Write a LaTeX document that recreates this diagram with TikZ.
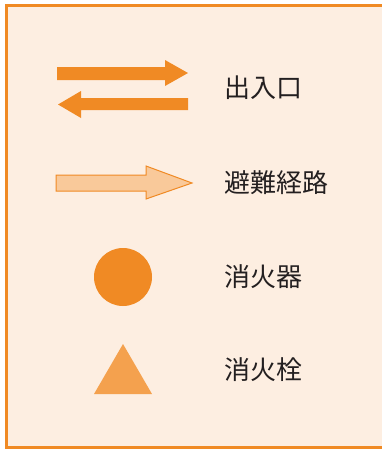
\documentclass[tikz,border=0pt]{standalone}
\usepackage{fontspec}
\newfontfamily\cjk{Noto Sans CJK JP}
\definecolor{bgc}{HTML}{FDEEE1}
\definecolor{orng}{HTML}{F08A24}
\definecolor{lorng}{HTML}{F4A14E}
\definecolor{pale}{HTML}{F9C99A}
\definecolor{txt}{HTML}{231F20}
\begin{document}
\begin{tikzpicture}[x=1pt,y=-1pt,
  label/.style={anchor=west,inner sep=0pt,font=\cjk\fontsize{26}{28}\selectfont,text=txt}]
\useasboundingbox (0,0) rectangle (381,450);
\fill[white] (0,0) rectangle (381,450);
\draw[orng,line width=3,fill=bgc] (6.5,5) rectangle (400,447.5);
% entrance arrows
\fill[orng] (57,67) -- (165,67) -- (165,60) -- (188,73) -- (165,86) -- (165,80) -- (57,80) -- cycle;
\fill[orng] (188,98) -- (81,98) -- (81,91) -- (58,104.5) -- (81,118) -- (81,110) -- (188,110) -- cycle;
\node[label] (t1) at (224,88) {出入口};
% evacuation route
\draw[orng,line width=1,fill=pale] (56,175) -- (146,175) -- (146,166) -- (192,183) -- (146,199) -- (146,191) -- (56,191) -- cycle;
\node[label] (t2) at (224,183) {避難経路};
% extinguisher
\fill[orng] (123,277) circle (29);
\node[label] (t3) at (224,277) {消火器};
% hydrant
\fill[lorng] (123,344) -- (152,394) -- (94,394) -- cycle;
\node[label] (t4) at (224,370) {消火栓};
\end{tikzpicture}
\end{document}
